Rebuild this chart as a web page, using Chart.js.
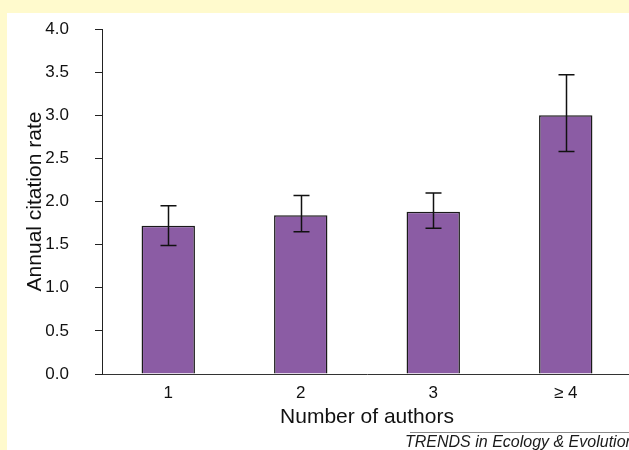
<!DOCTYPE html>
<html><head><meta charset="utf-8">
<script src="https://cdn.jsdelivr.net/npm/chart.js@4"></script>
<style>
html,body{margin:0;padding:0;width:629px;height:450px;overflow:hidden;background:#FFFACD;}
#panel{position:absolute;left:7px;top:13px;width:622px;height:437px;background:#fff;}
#wrap{position:absolute;left:7px;top:13px;width:625px;height:437px;}
#rule{position:absolute;left:410px;top:432px;width:219px;height:0;border-top:1.5px solid #8a8a8a;}
#credit{position:absolute;left:405px;top:434px;font:italic 16px "Liberation Sans",Arial,sans-serif;line-height:16px;white-space:nowrap;color:#1a1a1a;}
</style>
</head><body>
<div id="panel"></div>
<div id="wrap"><canvas id="c"></canvas></div>
<div id="rule"></div>
<div id="credit">TRENDS in Ecology &amp; Evolution</div>
<script>
const categories = ['1', '2', '3', '\u2265 4'];
const citationRate = [1.72, 1.84, 1.88, 3.00];
const errorUpper = [1.95, 2.07, 2.10, 3.47];
const errorLower = [1.49, 1.65, 1.69, 2.58];
const yMin = 0, yMax = 4, yStep = 0.5;
const xTitle = 'Number of authors';
const yTitle = 'Annual citation rate';

const FONT = '"Liberation Sans", Arial, Helvetica, sans-serif';

const errorBars = {
  id: 'errorBars',
  afterDatasetsDraw(chart) {
    const {ctx, scales: {y}} = chart;
    const meta = chart.getDatasetMeta(0);
    ctx.save();
    ctx.strokeStyle = '#111';
    ctx.lineWidth = 1.5;
    meta.data.forEach((bar, i) => {
      const cx = Math.round(bar.x) + 0.5;
      const yt = y.getPixelForValue(errorUpper[i]);
      const yb = y.getPixelForValue(errorLower[i]);
      const hw = 8;
      ctx.beginPath();
      ctx.moveTo(cx, yt); ctx.lineTo(cx, yb);
      ctx.moveTo(cx - hw, yt); ctx.lineTo(cx + hw, yt);
      ctx.moveTo(cx - hw, yb); ctx.lineTo(cx + hw, yb);
      ctx.stroke();
    });
    ctx.restore();
  }
};

new Chart(document.getElementById('c'), {
  type: 'bar',
  data: {
    labels: categories,
    datasets: [{
      data: citationRate,
      backgroundColor: '#8b5ca4',
      borderColor: '#1a1a1a',
      borderWidth: 1.5,
      barPercentage: 0.403,
      categoryPercentage: 1
    }]
  },
  options: {
    responsive: true,
    maintainAspectRatio: false,
    animation: false,
    devicePixelRatio: 1,
    layout: {padding: {left: 16, top: 16, right: 0, bottom: 20}},
    plugins: {legend: {display: false}, tooltip: {enabled: false}},
    scales: {
      x: {
        grid: {display: false, drawTicks: false},
        border: {display: true, color: '#333', width: 1},
        ticks: {font: {family: FONT, size: 17}, color: '#111', padding: 9},
        title: {display: true, text: xTitle, font: {family: FONT, size: 21}, color: '#111', padding: 0},
        afterFit(s) { s.height = 56; }
      },
      y: {
        min: yMin, max: yMax,
        grid: {drawOnChartArea: false, drawTicks: true, tickLength: 7, color: '#222'},
        border: {display: true, color: '#222', width: 1},
        ticks: {stepSize: yStep, font: {family: FONT, size: 17}, color: '#111', padding: 26,
          callback: v => Number(v).toFixed(1)},
        title: {display: true, text: yTitle, font: {family: FONT, size: 21}, color: '#111', padding: 0},
        afterFit(s) { s.width = 79; s.paddingTop = 10; s.paddingBottom = 10; }
      }
    }
  },
  plugins: [errorBars]
});
</script>
</body></html>
